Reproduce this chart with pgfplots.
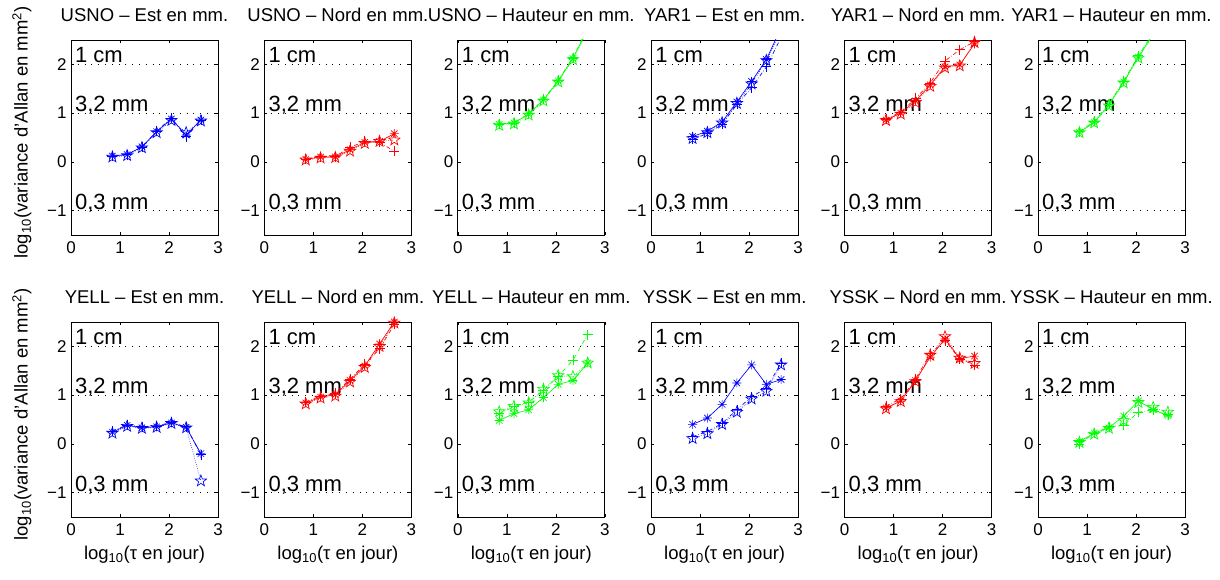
\documentclass[border=0pt]{standalone}
\usepackage{fontspec}
\setmainfont{Liberation Sans}
\usepackage{pgfplots}
\pgfplotsset{compat=1.18}

\pgfdeclareplotmark{mast}{%
 \pgfpathmoveto{\pgfqpoint{-\pgfplotmarksize}{0pt}}\pgfpathlineto{\pgfqpoint{\pgfplotmarksize}{0pt}}%
 \pgfpathmoveto{\pgfqpoint{0pt}{-\pgfplotmarksize}}\pgfpathlineto{\pgfqpoint{0pt}{\pgfplotmarksize}}%
 \pgfpathmoveto{\pgfpointpolar{45}{\pgfplotmarksize}}\pgfpathlineto{\pgfpointpolar{225}{\pgfplotmarksize}}%
 \pgfpathmoveto{\pgfpointpolar{135}{\pgfplotmarksize}}\pgfpathlineto{\pgfpointpolar{315}{\pgfplotmarksize}}%
 \pgfusepathqstroke}
\pgfdeclareplotmark{pent}{%
 \pgfpathmoveto{\pgfpointpolar{90}{\pgfplotmarksize}}%
 \pgfpathlineto{\pgfpointscale{0.4}{\pgfpointpolar{126}{\pgfplotmarksize}}}%
 \pgfpathlineto{\pgfpointpolar{162}{\pgfplotmarksize}}%
 \pgfpathlineto{\pgfpointscale{0.4}{\pgfpointpolar{198}{\pgfplotmarksize}}}%
 \pgfpathlineto{\pgfpointpolar{234}{\pgfplotmarksize}}%
 \pgfpathlineto{\pgfpointscale{0.4}{\pgfpointpolar{270}{\pgfplotmarksize}}}%
 \pgfpathlineto{\pgfpointpolar{306}{\pgfplotmarksize}}%
 \pgfpathlineto{\pgfpointscale{0.4}{\pgfpointpolar{342}{\pgfplotmarksize}}}%
 \pgfpathlineto{\pgfpointpolar{18}{\pgfplotmarksize}}%
 \pgfpathlineto{\pgfpointscale{0.4}{\pgfpointpolar{54}{\pgfplotmarksize}}}%
 \pgfpathclose\pgfusepathqstroke}

\definecolor{mb}{rgb}{0,0,1}
\definecolor{mr}{rgb}{1,0,0}
\definecolor{mg}{rgb}{0,1,0}

\pgfplotsset{
 myax/.style={
  anchor=south west, scale only axis, width=147bp, height=195bp,
  xmin=0, xmax=3, ymin=-1.5, ymax=2.5,
  xtick={0,1,2,3}, xticklabels={0,1,2,3},
  ytick={-1,0,1,2}, yticklabels={−1,0,1,2},
  tick align=inside, major tick length=3bp,
  axis line style={black, line width=0.8bp},
  tick style={black, line width=0.5bp},
  ticklabel style={font=\fontsize{17bp}{20bp}\selectfont},
  xticklabel style={yshift=-3bp},
  yticklabel style={xshift=-1bp},
  title style={at={(0.5,1)}, anchor=base, yshift=13bp, font=\fontsize{18.5bp}{20bp}\selectfont},
  label style={font=\fontsize{18.5bp}{20bp}\selectfont},
  every axis plot/.append style={line width=0.65bp},
  clip=true,
 },
 refl/.style={black, line width=0.6bp, dash pattern=on 0.8bp off 6bp, mark=none},
 serA/.style={solid, mark=mast, mark size=4.5bp, mark options={solid}},
 serB/.style={dash pattern=on 0.6bp off 1.6bp, mark=pent, mark size=6bp, mark options={solid}},
 serC/.style={dash pattern=on 4bp off 2bp on 0.6bp off 2bp, mark=+, mark size=5bp, mark options={solid}},
}

\newcommand{\reflines}{%
 \addplot[refl] coordinates {(0,2) (3,2)};
 \addplot[refl] coordinates {(0,1) (3,1)};
 \addplot[refl] coordinates {(0,-1) (3,-1)};
 \node[anchor=base west, inner sep=0pt, font=\fontsize{22bp}{22bp}\selectfont] at (axis cs:0.08,2.03) {1 cm};
 \node[anchor=base west, inner sep=0pt, font=\fontsize{22bp}{22bp}\selectfont] at (axis cs:0.08,1.03) {3,2 mm};
 \node[anchor=base west, inner sep=0pt, font=\fontsize{22bp}{22bp}\selectfont] at (axis cs:0.08,-0.97) {0,3 mm};
}

\newcommand{\ylab}{log\textsubscript{10}(variance d'Allan en mm\textsuperscript{2})}
\newcommand{\xlab}{log\textsubscript{10}(τ en jour)}

\begin{document}
\begin{tikzpicture}
\useasboundingbox (0,0) rectangle (1220bp,580bp);

% ---------- Row 1 ----------
\begin{axis}[myax, at={(71bp,345bp)}, title={USNO – Est en mm.}, ylabel={\ylab}, ylabel style={at={(axis description cs:0,0.5)}, anchor=south, yshift=36bp, xshift=5bp}]
\reflines
\addplot[mb, serB] coordinates {(0.845,0.10) (1.146,0.13) (1.447,0.29) (1.748,0.60) (2.049,0.85) (2.350,0.60) (2.651,0.84)};
\addplot[mb, serC] coordinates {(0.845,0.12) (1.146,0.15) (1.447,0.30) (1.748,0.63) (2.049,0.90) (2.350,0.52) (2.651,0.86)};
\addplot[mb, serA] coordinates {(0.845,0.12) (1.146,0.15) (1.447,0.31) (1.748,0.62) (2.049,0.88) (2.350,0.55) (2.651,0.86)};
\end{axis}

\begin{axis}[myax, at={(264.4bp,345bp)}, title={USNO – Nord en mm.}]
\reflines
\addplot[mr, serB] coordinates {(0.845,0.04) (1.146,0.08) (1.447,0.09) (1.748,0.22) (2.049,0.38) (2.350,0.42) (2.651,0.45)};
\addplot[mr, serC] coordinates {(0.845,0.06) (1.146,0.11) (1.447,0.11) (1.748,0.30) (2.049,0.42) (2.350,0.40) (2.651,0.22)};
\addplot[mr, serA] coordinates {(0.845,0.05) (1.146,0.10) (1.447,0.10) (1.748,0.25) (2.049,0.40) (2.350,0.42) (2.651,0.58)};
\end{axis}

\begin{axis}[myax, at={(457.8bp,345bp)}, title={USNO – Hauteur en mm.}]
\reflines
\addplot[mg, serB] coordinates {(0.845,0.75) (1.146,0.78) (1.447,0.96) (1.748,1.25) (2.049,1.64) (2.350,2.10) (2.651,2.70)};
\addplot[mg, serC] coordinates {(0.845,0.78) (1.146,0.80) (1.447,0.99) (1.748,1.28) (2.049,1.67) (2.350,2.14) (2.651,2.75)};
\addplot[mg, serA] coordinates {(0.845,0.77) (1.146,0.80) (1.447,0.98) (1.748,1.27) (2.049,1.66) (2.350,2.12) (2.651,2.72)};
\end{axis}

\begin{axis}[myax, at={(651.2bp,345bp)}, title={YAR1 – Est en mm.}]
\reflines
\addplot[mb, serB] coordinates {(0.845,0.48) (1.146,0.60) (1.447,0.80) (1.748,1.20) (2.049,1.60) (2.350,2.08) (2.651,2.70)};
\addplot[mb, serC] coordinates {(0.845,0.46) (1.146,0.58) (1.447,0.77) (1.748,1.18) (2.049,1.52) (2.350,1.95) (2.651,2.55)};
\addplot[mb, serA] coordinates {(0.845,0.52) (1.146,0.63) (1.447,0.82) (1.748,1.23) (2.049,1.65) (2.350,2.10) (2.651,2.75)};
\end{axis}

\begin{axis}[myax, at={(844.6bp,345bp)}, title={YAR1 – Nord en mm.}]
\reflines
\addplot[mr, serB] coordinates {(0.845,0.85) (1.146,0.98) (1.447,1.22) (1.748,1.55) (2.049,1.93) (2.350,1.97) (2.651,2.45)};
\addplot[mr, serC] coordinates {(0.845,0.88) (1.146,1.02) (1.447,1.30) (1.748,1.62) (2.049,2.07) (2.350,2.30) (2.651,2.47)};
\addplot[mr, serA] coordinates {(0.845,0.86) (1.146,1.00) (1.447,1.25) (1.748,1.58) (2.049,1.95) (2.350,1.99) (2.651,2.42)};
\end{axis}

\begin{axis}[myax, at={(1038bp,345bp)}, title={YAR1 – Hauteur en mm.}]
\reflines
\addplot[mg, serB] coordinates {(0.845,0.60) (1.146,0.80) (1.447,1.15) (1.748,1.62) (2.049,2.13) (2.350,2.60) (2.651,2.98)};
\addplot[mg, serC] coordinates {(0.845,0.62) (1.146,0.83) (1.447,1.19) (1.748,1.66) (2.049,2.18) (2.350,2.65) (2.651,3.05)};
\addplot[mg, serA] coordinates {(0.845,0.61) (1.146,0.81) (1.447,1.17) (1.748,1.64) (2.049,2.15) (2.350,2.62) (2.651,3.00)};
\end{axis}

% ---------- Row 2 ----------
\begin{axis}[myax, at={(71bp,63bp)}, title={YELL – Est en mm.}, ylabel={\ylab}, ylabel style={at={(axis description cs:0,0.5)}, anchor=south, yshift=36bp, xshift=5bp}, xlabel={\xlab}, xlabel style={at={(axis description cs:0.5,0)}, anchor=base, yshift=-42bp}]
\reflines
\addplot[mb, serB] coordinates {(0.845,0.22) (1.146,0.36) (1.447,0.32) (1.748,0.34) (2.049,0.42) (2.350,0.33) (2.651,-0.76)};
\addplot[mb, serC] coordinates {(0.845,0.26) (1.146,0.39) (1.447,0.35) (1.748,0.37) (2.049,0.44) (2.350,0.35) (2.651,-0.22)};
\addplot[mb, serA] coordinates {(0.845,0.24) (1.146,0.38) (1.447,0.33) (1.748,0.35) (2.049,0.43) (2.350,0.34) (2.651,-0.20)};
\end{axis}

\begin{axis}[myax, at={(264.4bp,63bp)}, title={YELL – Nord en mm.}, xlabel={\xlab}, xlabel style={at={(axis description cs:0.5,0)}, anchor=base, yshift=-42bp}]
\reflines
\addplot[mr, serB] coordinates {(0.845,0.82) (1.146,0.94) (1.447,0.98) (1.748,1.27) (2.049,1.57) (2.350,2.00) (2.651,2.48)};
\addplot[mr, serC] coordinates {(0.845,0.86) (1.146,0.98) (1.447,1.04) (1.748,1.33) (2.049,1.63) (2.350,1.95) (2.651,2.45)};
\addplot[mr, serA] coordinates {(0.845,0.84) (1.146,0.96) (1.447,1.01) (1.748,1.30) (2.049,1.60) (2.350,2.05) (2.651,2.50)};
\end{axis}

\begin{axis}[myax, at={(457.8bp,63bp)}, title={YELL – Hauteur en mm.}, xlabel={\xlab}, xlabel style={at={(axis description cs:0.5,0)}, anchor=base, yshift=-42bp}]
\reflines
\addplot[mg, serB] coordinates {(0.845,0.66) (1.146,0.77) (1.447,0.84) (1.748,1.12) (2.049,1.40) (2.350,1.38) (2.651,1.66)};
\addplot[mg, serC] coordinates {(0.845,0.62) (1.146,0.76) (1.447,0.86) (1.748,1.10) (2.049,1.38) (2.350,1.72) (2.651,2.24)};
\addplot[mg, serA] coordinates {(0.845,0.48) (1.146,0.62) (1.447,0.70) (1.748,0.95) (2.049,1.22) (2.350,1.30) (2.651,1.66)};
\end{axis}

\begin{axis}[myax, at={(651.2bp,63bp)}, title={YSSK – Est en mm.}, xlabel={\xlab}, xlabel style={at={(axis description cs:0.5,0)}, anchor=base, yshift=-42bp}]
\reflines
\addplot[mb, serB] coordinates {(0.845,0.11) (1.146,0.21) (1.447,0.40) (1.748,0.65) (2.049,0.92) (2.350,1.08) (2.651,1.62)};
\addplot[mb, serC] coordinates {(0.845,0.15) (1.146,0.25) (1.447,0.42) (1.748,0.70) (2.049,0.97) (2.350,1.14) (2.651,1.66)};
\addplot[mb, serA] coordinates {(0.845,0.40) (1.146,0.53) (1.447,0.81) (1.748,1.25) (2.049,1.62) (2.350,1.22) (2.651,1.32)};
\end{axis}

\begin{axis}[myax, at={(844.6bp,63bp)}, title={YSSK – Nord en mm.}, xlabel={\xlab}, xlabel style={at={(axis description cs:0.5,0)}, anchor=base, yshift=-42bp}]
\reflines
\addplot[mr, serB] coordinates {(0.845,0.72) (1.146,0.87) (1.447,1.28) (1.748,1.82) (2.049,2.20) (2.350,1.76) (2.651,1.65)};
\addplot[mr, serC] coordinates {(0.845,0.78) (1.146,0.92) (1.447,1.33) (1.748,1.85) (2.049,2.12) (2.350,1.74) (2.651,1.62)};
\addplot[mr, serA] coordinates {(0.845,0.74) (1.146,0.88) (1.447,1.30) (1.748,1.78) (2.049,2.15) (2.350,1.75) (2.651,1.80)};
\end{axis}

\begin{axis}[myax, at={(1038bp,63bp)}, title={YSSK – Hauteur en mm.}, xlabel={\xlab}, xlabel style={at={(axis description cs:0.5,0)}, anchor=base, yshift=-42bp}]
\reflines
\addplot[mg, serB] coordinates {(0.845,0.03) (1.146,0.20) (1.447,0.32) (1.748,0.48) (2.049,0.85) (2.350,0.75) (2.651,0.65)};
\addplot[mg, serC] coordinates {(0.845,0.00) (1.146,0.22) (1.447,0.35) (1.748,0.38) (2.049,0.65) (2.350,0.70) (2.651,0.60)};
\addplot[mg, serA] coordinates {(0.845,0.05) (1.146,0.22) (1.447,0.33) (1.748,0.57) (2.049,0.88) (2.350,0.70) (2.651,0.58)};
\end{axis}
\end{tikzpicture}
\end{document}
